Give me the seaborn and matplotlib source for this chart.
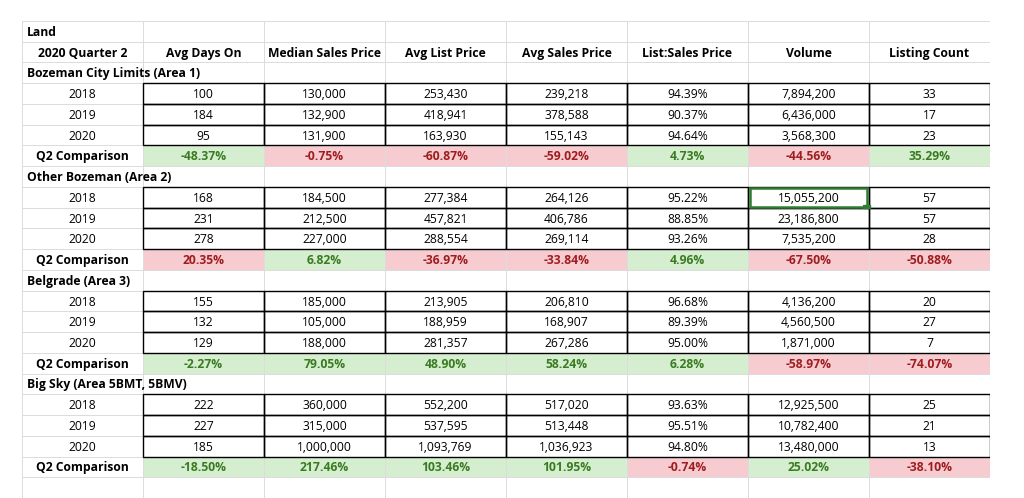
import numpy as np
import seaborn as sns
import matplotlib
matplotlib.use("Agg")
import matplotlib.pyplot as plt
from matplotlib.colors import ListedColormap
from matplotlib.patches import Rectangle

columns = ["2020 Quarter 2", "Avg Days On", "Median Sales Price", "Avg List Price",
           "Avg Sales Price", "List:Sales Price", "Volume", "Listing Count"]
areas = ["Bozeman City Limits (Area 1)", "Other Bozeman (Area 2)",
         "Belgrade (Area 3)", "Big Sky (Area 5BMT, 5BMV)"]
years = ["2018", "2019", "2020"]
area1 = [["100", "130,000", "253,430", "239,218", "94.39%", "7,894,200", "33"],
         ["184", "132,900", "418,941", "378,588", "90.37%", "6,436,000", "17"],
         ["95", "131,900", "163,930", "155,143", "94.64%", "3,568,300", "23"]]
area2 = [["168", "184,500", "277,384", "264,126", "95.22%", "15,055,200", "57"],
         ["231", "212,500", "457,821", "406,786", "88.85%", "23,186,800", "57"],
         ["278", "227,000", "288,554", "269,114", "93.26%", "7,535,200", "28"]]
area3 = [["155", "185,000", "213,905", "206,810", "96.68%", "4,136,200", "20"],
         ["132", "105,000", "188,959", "168,907", "89.39%", "4,560,500", "27"],
         ["129", "188,000", "281,357", "267,286", "95.00%", "1,871,000", "7"]]
area4 = [["222", "360,000", "552,200", "517,020", "93.63%", "12,925,500", "25"],
         ["227", "315,000", "537,595", "513,448", "95.51%", "10,782,400", "21"],
         ["185", "1,000,000", "1,093,769", "1,036,923", "94.80%", "13,480,000", "13"]]
q2_1 = ["-48.37%", "-0.75%", "-60.87%", "-59.02%", "4.73%", "-44.56%", "35.29%"]
q2_2 = ["20.35%", "6.82%", "-36.97%", "-33.84%", "4.96%", "-67.50%", "-50.88%"]
q2_3 = ["-2.27%", "79.05%", "48.90%", "58.24%", "6.28%", "-58.97%", "-74.07%"]
q2_4 = ["-18.50%", "217.46%", "103.46%", "101.95%", "-0.74%", "25.02%", "-38.10%"]
# 1 = good (green), 2 = bad (red)
q2_flags = [[1, 2, 2, 2, 1, 2, 1],
            [2, 1, 2, 2, 1, 2, 2],
            [1, 1, 1, 1, 1, 2, 2],
            [1, 1, 1, 1, 2, 1, 2]]

nrows, ncols = 23, 8
fill = np.zeros((nrows, ncols))
texts = {}
bold = set()
year_rows = []
texts[(0, 0)] = ("Land", "left"); bold.add((0, 0))
for c, name in enumerate(columns):
    texts[(1, c)] = (name, "center"); bold.add((1, c))
r = 2
for a, (title, data, q2) in enumerate(zip(areas, [area1, area2, area3, area4], [q2_1, q2_2, q2_3, q2_4])):
    texts[(r, 0)] = (title, "left"); bold.add((r, 0)); r += 1
    for y, row in zip(years, data):
        texts[(r, 0)] = (y, "center")
        for c, v in enumerate(row):
            texts[(r, c + 1)] = (v, "center")
        year_rows.append(r); r += 1
    texts[(r, 0)] = ("Q2 Comparison", "center"); bold.add((r, 0))
    for c, v in enumerate(q2):
        texts[(r, c + 1)] = (v, "center"); bold.add((r, c + 1))
        fill[r, c + 1] = q2_flags[a][c]
    r += 1

fig = plt.figure(figsize=(10.24, 4.98), dpi=100)
ax = fig.add_axes([22 / 1024, 0, 968 / 1024, 477 / 498])
cmap = ListedColormap(["white", "#d6eed0", "#f6ccd1"])
sns.heatmap(fill, ax=ax, cmap=cmap, vmin=-0.5, vmax=2.5, cbar=False,
            linewidths=0.5, linecolor="#dcdcdc", xticklabels=False, yticklabels=False)
ax.set_ylim(nrows, 0)

txtcol = {0: "black", 1: "#3a7b22", 2: "#a01d1f"}
for (rr, cc), (t, ha) in texts.items():
    col = txtcol[int(fill[rr, cc])]
    x = cc + 0.04 if ha == "left" else cc + 0.5
    ax.text(x, rr + 0.55, t, ha=ha, va="center", fontsize=8.7, color=col,
            fontweight="bold" if (rr, cc) in bold else "normal", family="Open Sans")

for rr in year_rows:
    for cc in range(1, ncols):
        ax.add_patch(Rectangle((cc, rr), 1, 1, fill=False, ec="black", lw=1.0, zorder=3))
# selected cell (Volume, Area 2, 2018)
ax.add_patch(Rectangle((6.02, 8.04), 0.96, 0.92, fill=False, ec="#2e7d32", lw=1.8, zorder=4))
ax.add_patch(Rectangle((6.95, 8.88), 0.06, 0.15, color="#2e7d32", zorder=5))
ax.axis("off")
fig.savefig("out.png", dpi=100)
